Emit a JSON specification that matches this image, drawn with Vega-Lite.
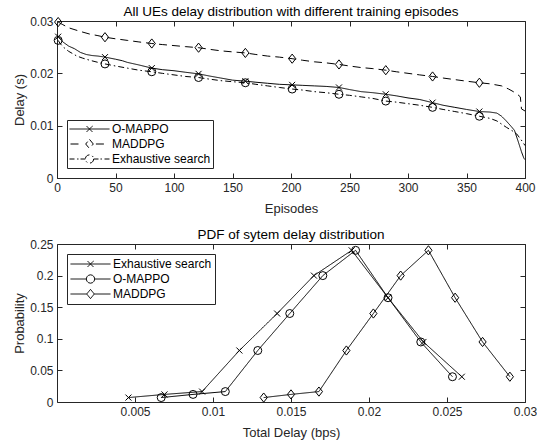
{
  "$schema": "https://vega.github.io/schema/vega-lite/v6.json",
  "padding": {"left": 13, "top": 4, "right": 0, "bottom": 0},
  "spacing": 66,
  "bounds": "flush",
  "resolve": {"scale": {"strokeDash": "independent"}, "legend": {"strokeDash": "independent"}},
  "config": {
    "font": "Liberation Sans",
    "view": {"stroke": "#262626", "strokeWidth": 1},
    "axis": {"grid": false, "domain": false, "tickSize": -5, "tickColor": "#262626", "tickWidth": 1, "labelPadding": 9, "labelFontSize": 12, "labelColor": "#262626", "titleFontSize": 13, "titleFontWeight": "normal", "titleColor": "#262626", "labelFlush": false, "labelOverlap": false, "titlePadding": 3},
    "axisX": {"titlePadding": 9},
    "title": {"fontSize": 13.5, "fontWeight": "normal", "color": "black", "offset": -3},
    "point": {"filled": false, "color": "black", "strokeWidth": 1, "opacity": 1, "size": 64},
    "legend": {"title": null, "strokeColor": "#262626", "fillColor": "white", "padding": 3, "symbolSize": 1600, "clipHeight": 14, "rowPadding": 1, "labelOffset": 2, "labelFontSize": 12, "labelColor": "black", "symbolStrokeWidth": 1, "symbolStrokeColor": "black"}
  },
  "datasets": {
    "top": [
      {"series":"O-MAPPO","ep":0,"delay":0.0267,"marker":false},
      {"series":"O-MAPPO","ep":1,"delay":0.0270,"marker":true},
      {"series":"O-MAPPO","ep":5,"delay":0.0260,"marker":false},
      {"series":"O-MAPPO","ep":10,"delay":0.0252,"marker":false},
      {"series":"O-MAPPO","ep":15,"delay":0.0247,"marker":false},
      {"series":"O-MAPPO","ep":20,"delay":0.0240,"marker":false},
      {"series":"O-MAPPO","ep":25,"delay":0.0236,"marker":false},
      {"series":"O-MAPPO","ep":30,"delay":0.0234,"marker":false},
      {"series":"O-MAPPO","ep":35,"delay":0.0233,"marker":false},
      {"series":"O-MAPPO","ep":41,"delay":0.0231,"marker":true},
      {"series":"O-MAPPO","ep":50,"delay":0.0227,"marker":false},
      {"series":"O-MAPPO","ep":56,"delay":0.0224,"marker":false},
      {"series":"O-MAPPO","ep":60,"delay":0.0221,"marker":false},
      {"series":"O-MAPPO","ep":70,"delay":0.0216,"marker":false},
      {"series":"O-MAPPO","ep":81,"delay":0.0210,"marker":true},
      {"series":"O-MAPPO","ep":90,"delay":0.0207,"marker":false},
      {"series":"O-MAPPO","ep":100,"delay":0.0205,"marker":false},
      {"series":"O-MAPPO","ep":110,"delay":0.0202,"marker":false},
      {"series":"O-MAPPO","ep":121,"delay":0.0199,"marker":true},
      {"series":"O-MAPPO","ep":130,"delay":0.0195,"marker":false},
      {"series":"O-MAPPO","ep":140,"delay":0.0191,"marker":false},
      {"series":"O-MAPPO","ep":150,"delay":0.0187,"marker":false},
      {"series":"O-MAPPO","ep":161,"delay":0.0185,"marker":true},
      {"series":"O-MAPPO","ep":170,"delay":0.0183,"marker":false},
      {"series":"O-MAPPO","ep":180,"delay":0.0181,"marker":false},
      {"series":"O-MAPPO","ep":190,"delay":0.0179,"marker":false},
      {"series":"O-MAPPO","ep":201,"delay":0.0178,"marker":true},
      {"series":"O-MAPPO","ep":210,"delay":0.0177,"marker":false},
      {"series":"O-MAPPO","ep":220,"delay":0.0176,"marker":false},
      {"series":"O-MAPPO","ep":230,"delay":0.0175,"marker":false},
      {"series":"O-MAPPO","ep":241,"delay":0.0173,"marker":true},
      {"series":"O-MAPPO","ep":250,"delay":0.0169,"marker":false},
      {"series":"O-MAPPO","ep":260,"delay":0.0165,"marker":false},
      {"series":"O-MAPPO","ep":270,"delay":0.0163,"marker":false},
      {"series":"O-MAPPO","ep":281,"delay":0.0160,"marker":true},
      {"series":"O-MAPPO","ep":290,"delay":0.0157,"marker":false},
      {"series":"O-MAPPO","ep":300,"delay":0.0153,"marker":false},
      {"series":"O-MAPPO","ep":310,"delay":0.0150,"marker":false},
      {"series":"O-MAPPO","ep":321,"delay":0.0144,"marker":true},
      {"series":"O-MAPPO","ep":330,"delay":0.0139,"marker":false},
      {"series":"O-MAPPO","ep":340,"delay":0.0135,"marker":false},
      {"series":"O-MAPPO","ep":350,"delay":0.0131,"marker":false},
      {"series":"O-MAPPO","ep":361,"delay":0.0127,"marker":true},
      {"series":"O-MAPPO","ep":370,"delay":0.0126,"marker":false},
      {"series":"O-MAPPO","ep":376,"delay":0.0124,"marker":false},
      {"series":"O-MAPPO","ep":380,"delay":0.0118,"marker":false},
      {"series":"O-MAPPO","ep":384,"delay":0.0109,"marker":false},
      {"series":"O-MAPPO","ep":388,"delay":0.0099,"marker":false},
      {"series":"O-MAPPO","ep":391,"delay":0.0091,"marker":false},
      {"series":"O-MAPPO","ep":394,"delay":0.0071,"marker":false},
      {"series":"O-MAPPO","ep":397,"delay":0.0050,"marker":false},
      {"series":"O-MAPPO","ep":399,"delay":0.0038,"marker":false},
      {"series":"O-MAPPO","ep":400,"delay":0.0035,"marker":false},
      {"series":"MADDPG","ep":1,"delay":0.0298,"marker":true},
      {"series":"MADDPG","ep":5,"delay":0.0293,"marker":false},
      {"series":"MADDPG","ep":10,"delay":0.0287,"marker":false},
      {"series":"MADDPG","ep":20,"delay":0.0280,"marker":false},
      {"series":"MADDPG","ep":28,"delay":0.0275,"marker":false},
      {"series":"MADDPG","ep":35,"delay":0.0272,"marker":false},
      {"series":"MADDPG","ep":41,"delay":0.0269,"marker":true},
      {"series":"MADDPG","ep":50,"delay":0.0266,"marker":false},
      {"series":"MADDPG","ep":60,"delay":0.0263,"marker":false},
      {"series":"MADDPG","ep":70,"delay":0.0260,"marker":false},
      {"series":"MADDPG","ep":81,"delay":0.0257,"marker":true},
      {"series":"MADDPG","ep":90,"delay":0.0255,"marker":false},
      {"series":"MADDPG","ep":100,"delay":0.0253,"marker":false},
      {"series":"MADDPG","ep":110,"delay":0.0251,"marker":false},
      {"series":"MADDPG","ep":121,"delay":0.0249,"marker":true},
      {"series":"MADDPG","ep":130,"delay":0.0246,"marker":false},
      {"series":"MADDPG","ep":140,"delay":0.0243,"marker":false},
      {"series":"MADDPG","ep":150,"delay":0.0241,"marker":false},
      {"series":"MADDPG","ep":161,"delay":0.0239,"marker":true},
      {"series":"MADDPG","ep":170,"delay":0.0236,"marker":false},
      {"series":"MADDPG","ep":180,"delay":0.0233,"marker":false},
      {"series":"MADDPG","ep":190,"delay":0.0231,"marker":false},
      {"series":"MADDPG","ep":201,"delay":0.0228,"marker":true},
      {"series":"MADDPG","ep":210,"delay":0.0225,"marker":false},
      {"series":"MADDPG","ep":220,"delay":0.0222,"marker":false},
      {"series":"MADDPG","ep":230,"delay":0.0220,"marker":false},
      {"series":"MADDPG","ep":241,"delay":0.0217,"marker":true},
      {"series":"MADDPG","ep":250,"delay":0.0214,"marker":false},
      {"series":"MADDPG","ep":260,"delay":0.0211,"marker":false},
      {"series":"MADDPG","ep":270,"delay":0.0209,"marker":false},
      {"series":"MADDPG","ep":281,"delay":0.0206,"marker":true},
      {"series":"MADDPG","ep":290,"delay":0.0203,"marker":false},
      {"series":"MADDPG","ep":300,"delay":0.0200,"marker":false},
      {"series":"MADDPG","ep":310,"delay":0.0197,"marker":false},
      {"series":"MADDPG","ep":321,"delay":0.0194,"marker":true},
      {"series":"MADDPG","ep":330,"delay":0.0191,"marker":false},
      {"series":"MADDPG","ep":340,"delay":0.0188,"marker":false},
      {"series":"MADDPG","ep":350,"delay":0.0185,"marker":false},
      {"series":"MADDPG","ep":361,"delay":0.0182,"marker":true},
      {"series":"MADDPG","ep":370,"delay":0.0180,"marker":false},
      {"series":"MADDPG","ep":380,"delay":0.0176,"marker":false},
      {"series":"MADDPG","ep":386,"delay":0.0170,"marker":false},
      {"series":"MADDPG","ep":390,"delay":0.0165,"marker":false},
      {"series":"MADDPG","ep":394,"delay":0.0159,"marker":false},
      {"series":"MADDPG","ep":396,"delay":0.0155,"marker":false},
      {"series":"MADDPG","ep":397,"delay":0.0132,"marker":false},
      {"series":"MADDPG","ep":400,"delay":0.0128,"marker":false},
      {"series":"Exhaustive search","ep":1,"delay":0.0263,"marker":true},
      {"series":"Exhaustive search","ep":3,"delay":0.0256,"marker":false},
      {"series":"Exhaustive search","ep":6,"delay":0.0249,"marker":false},
      {"series":"Exhaustive search","ep":10,"delay":0.0242,"marker":false},
      {"series":"Exhaustive search","ep":17,"delay":0.0233,"marker":false},
      {"series":"Exhaustive search","ep":22,"delay":0.0229,"marker":false},
      {"series":"Exhaustive search","ep":28,"delay":0.0225,"marker":false},
      {"series":"Exhaustive search","ep":35,"delay":0.0221,"marker":false},
      {"series":"Exhaustive search","ep":41,"delay":0.0218,"marker":true},
      {"series":"Exhaustive search","ep":50,"delay":0.0214,"marker":false},
      {"series":"Exhaustive search","ep":60,"delay":0.0210,"marker":false},
      {"series":"Exhaustive search","ep":70,"delay":0.0206,"marker":false},
      {"series":"Exhaustive search","ep":81,"delay":0.0203,"marker":true},
      {"series":"Exhaustive search","ep":90,"delay":0.0200,"marker":false},
      {"series":"Exhaustive search","ep":100,"delay":0.0197,"marker":false},
      {"series":"Exhaustive search","ep":110,"delay":0.0194,"marker":false},
      {"series":"Exhaustive search","ep":121,"delay":0.0192,"marker":true},
      {"series":"Exhaustive search","ep":130,"delay":0.0189,"marker":false},
      {"series":"Exhaustive search","ep":140,"delay":0.0186,"marker":false},
      {"series":"Exhaustive search","ep":150,"delay":0.0184,"marker":false},
      {"series":"Exhaustive search","ep":161,"delay":0.0182,"marker":true},
      {"series":"Exhaustive search","ep":170,"delay":0.0179,"marker":false},
      {"series":"Exhaustive search","ep":180,"delay":0.0176,"marker":false},
      {"series":"Exhaustive search","ep":190,"delay":0.0173,"marker":false},
      {"series":"Exhaustive search","ep":201,"delay":0.0170,"marker":true},
      {"series":"Exhaustive search","ep":210,"delay":0.0168,"marker":false},
      {"series":"Exhaustive search","ep":220,"delay":0.0165,"marker":false},
      {"series":"Exhaustive search","ep":230,"delay":0.0163,"marker":false},
      {"series":"Exhaustive search","ep":241,"delay":0.0160,"marker":true},
      {"series":"Exhaustive search","ep":250,"delay":0.0158,"marker":false},
      {"series":"Exhaustive search","ep":260,"delay":0.0155,"marker":false},
      {"series":"Exhaustive search","ep":270,"delay":0.0152,"marker":false},
      {"series":"Exhaustive search","ep":281,"delay":0.0147,"marker":true},
      {"series":"Exhaustive search","ep":290,"delay":0.0145,"marker":false},
      {"series":"Exhaustive search","ep":300,"delay":0.0142,"marker":false},
      {"series":"Exhaustive search","ep":310,"delay":0.0139,"marker":false},
      {"series":"Exhaustive search","ep":321,"delay":0.0135,"marker":true},
      {"series":"Exhaustive search","ep":330,"delay":0.0131,"marker":false},
      {"series":"Exhaustive search","ep":340,"delay":0.0127,"marker":false},
      {"series":"Exhaustive search","ep":350,"delay":0.0123,"marker":false},
      {"series":"Exhaustive search","ep":361,"delay":0.0118,"marker":true},
      {"series":"Exhaustive search","ep":370,"delay":0.0114,"marker":false},
      {"series":"Exhaustive search","ep":376,"delay":0.0109,"marker":false},
      {"series":"Exhaustive search","ep":384,"delay":0.0097,"marker":false},
      {"series":"Exhaustive search","ep":390,"delay":0.0089,"marker":false},
      {"series":"Exhaustive search","ep":393,"delay":0.0084,"marker":false},
      {"series":"Exhaustive search","ep":396,"delay":0.0075,"marker":false},
      {"series":"Exhaustive search","ep":398,"delay":0.0069,"marker":false},
      {"series":"Exhaustive search","ep":400,"delay":0.0062,"marker":false}
    ],
    "pdf": [
      {"series":"Exhaustive search","delay":0.00458,"prob":0.007},
      {"series":"Exhaustive search","delay":0.00689,"prob":0.012},
      {"series":"Exhaustive search","delay":0.0093,"prob":0.0165},
      {"series":"Exhaustive search","delay":0.01169,"prob":0.0815},
      {"series":"Exhaustive search","delay":0.01411,"prob":0.14},
      {"series":"Exhaustive search","delay":0.01647,"prob":0.2},
      {"series":"Exhaustive search","delay":0.01889,"prob":0.24},
      {"series":"Exhaustive search","delay":0.02122,"prob":0.165},
      {"series":"Exhaustive search","delay":0.02349,"prob":0.095},
      {"series":"Exhaustive search","delay":0.02595,"prob":0.04},
      {"series":"O-MAPPO","delay":0.00668,"prob":0.007},
      {"series":"O-MAPPO","delay":0.00872,"prob":0.012},
      {"series":"O-MAPPO","delay":0.01079,"prob":0.0165},
      {"series":"O-MAPPO","delay":0.01287,"prob":0.0815},
      {"series":"O-MAPPO","delay":0.01492,"prob":0.14},
      {"series":"O-MAPPO","delay":0.01704,"prob":0.2},
      {"series":"O-MAPPO","delay":0.01914,"prob":0.24},
      {"series":"O-MAPPO","delay":0.02122,"prob":0.165},
      {"series":"O-MAPPO","delay":0.02332,"prob":0.095},
      {"series":"O-MAPPO","delay":0.02535,"prob":0.04},
      {"series":"MADDPG","delay":0.01325,"prob":0.007},
      {"series":"MADDPG","delay":0.015,"prob":0.012},
      {"series":"MADDPG","delay":0.01679,"prob":0.0165},
      {"series":"MADDPG","delay":0.01855,"prob":0.0815},
      {"series":"MADDPG","delay":0.02028,"prob":0.14},
      {"series":"MADDPG","delay":0.02203,"prob":0.2},
      {"series":"MADDPG","delay":0.02381,"prob":0.24},
      {"series":"MADDPG","delay":0.02552,"prob":0.165},
      {"series":"MADDPG","delay":0.02728,"prob":0.095},
      {"series":"MADDPG","delay":0.02903,"prob":0.04}
    ]
  },
  "vconcat": [
    {
      "width": 468,
      "height": 157,
      "title": {"text": "All UEs delay distribution with different training episodes"},
      "data": {"name": "top"},
      "layer": [
        {
          "mark": {"type": "line", "color": "black", "strokeWidth": 1},
          "encoding": {
            "x": {"field": "ep", "type": "quantitative", "scale": {"domain": [0, 400], "nice": false, "zero": false}, "axis": {"orient": "bottom", "title": "Episodes", "values": [0, 50, 100, 150, 200, 250, 300, 350, 400]}},
            "y": {"field": "delay", "type": "quantitative", "scale": {"domain": [0, 0.03], "nice": false}, "axis": {"orient": "left", "title": "Delay (s)", "values": [0, 0.01, 0.02, 0.03], "format": "~g"}},
            "strokeDash": {
              "field": "series", "type": "nominal",
              "scale": {"domain": ["O-MAPPO", "MADDPG", "Exhaustive search"], "range": [[1, 0], [8, 5], [6, 3, 1.5, 3]]},
              "legend": {
                "orient": "bottom-left", "offset": 10, "padding": 2,
                "encode": {"symbols": {"update": {
                  "shape": {"signal": "datum.value === 'O-MAPPO' ? 'M-1,0H1M-0.15,-0.15L0.15,0.15M-0.15,0.15L0.15,-0.15' : datum.value === 'MADDPG' ? 'M-0.95,0H-0.32M0,-0.23L0.19,0L0,0.23L-0.19,0ZM0.32,0H0.95' : 'M-1,0H-0.75M-0.62,0H-0.55M-0.45,0H-0.21M0.21,0L0.182,0.105L0.105,0.182L0,0.21L-0.105,0.182L-0.182,0.105L-0.21,0L-0.182,-0.105L-0.105,-0.182L0,-0.21L0.105,-0.182L0.182,-0.105ZM0.21,0H0.45M0.55,0H0.62M0.75,0H1'"},
                  "strokeDash": {"value": [1, 0]},
                  "stroke": {"value": "black"},
                  "fill": {"value": "transparent"}
                }}}
              }
            }
          }
        },
        {
          "transform": [{"filter": "datum.marker && datum.series === 'O-MAPPO'"}],
          "mark": {"type": "point", "shape": "M-0.75,-0.75L0.75,0.75M-0.75,0.75L0.75,-0.75"},
          "encoding": {
            "x": {"field": "ep", "type": "quantitative", "axis": {"orient": "top", "labels": false, "title": null, "values": [0, 50, 100, 150, 200, 250, 300, 350, 400]}},
            "y": {"field": "delay", "type": "quantitative", "axis": {"orient": "right", "labels": false, "title": null, "values": [0, 0.01, 0.02, 0.03]}}
          }
        },
        {
          "transform": [{"filter": "datum.marker && datum.series === 'MADDPG'"}],
          "mark": {"type": "point", "shape": "M0,-1.15L0.9,0L0,1.15L-0.9,0Z"},
          "encoding": {
            "x": {"field": "ep", "type": "quantitative", "axis": null},
            "y": {"field": "delay", "type": "quantitative", "axis": null}
          }
        },
        {
          "transform": [{"filter": "datum.marker && datum.series === 'Exhaustive search'"}],
          "mark": {"type": "point", "shape": "circle"},
          "encoding": {
            "x": {"field": "ep", "type": "quantitative", "axis": null},
            "y": {"field": "delay", "type": "quantitative", "axis": null}
          }
        }
      ],
      "resolve": {"axis": {"x": "independent", "y": "independent"}}
    },
    {
      "width": 468,
      "height": 158,
      "title": {"text": "PDF of sytem delay distribution"},
      "data": {"name": "pdf"},
      "layer": [
        {
          "mark": {"type": "line", "color": "black", "strokeWidth": 1},
          "encoding": {
            "x": {"field": "delay", "type": "quantitative", "scale": {"domain": [0, 0.03], "nice": false, "zero": false}, "axis": {"orient": "bottom", "title": "Total Delay (bps)", "values": [0.005, 0.01, 0.015, 0.02, 0.025, 0.03], "format": "~g"}},
            "y": {"field": "prob", "type": "quantitative", "scale": {"domain": [0, 0.25], "nice": false}, "axis": {"orient": "left", "title": "Probability", "values": [0, 0.05, 0.1, 0.15, 0.2, 0.25], "format": "~g"}},
            "strokeDash": {
              "field": "series", "type": "nominal",
              "scale": {"domain": ["Exhaustive search", "O-MAPPO", "MADDPG"], "range": [[1, 0], [1, 0], [1, 0]]},
              "legend": {
                "orient": "top-left", "offset": 10, "padding": 3,
                "encode": {"symbols": {"update": {
                  "shape": {"signal": "datum.value === 'Exhaustive search' ? 'M-1,0H1M-0.15,-0.15L0.15,0.15M-0.15,0.15L0.15,-0.15' : datum.value === 'MADDPG' ? 'M-1,0H-0.19M0,-0.23L0.19,0L0,0.23L-0.19,0ZM0.19,0H1' : 'M-1,0H-0.21M0.21,0L0.182,0.105L0.105,0.182L0,0.21L-0.105,0.182L-0.182,0.105L-0.21,0L-0.182,-0.105L-0.105,-0.182L0,-0.21L0.105,-0.182L0.182,-0.105ZM0.21,0H1'"},
                  "strokeDash": {"value": [1, 0]},
                  "stroke": {"value": "black"},
                  "fill": {"value": "transparent"}
                }}}
              }
            }
          }
        },
        {
          "transform": [{"filter": "datum.series === 'Exhaustive search'"}],
          "mark": {"type": "point", "shape": "M-0.75,-0.75L0.75,0.75M-0.75,0.75L0.75,-0.75"},
          "encoding": {
            "x": {"field": "delay", "type": "quantitative", "axis": {"orient": "top", "labels": false, "title": null, "values": [0.005, 0.01, 0.015, 0.02, 0.025, 0.03]}},
            "y": {"field": "prob", "type": "quantitative", "axis": {"orient": "right", "labels": false, "title": null, "values": [0, 0.05, 0.1, 0.15, 0.2, 0.25]}}
          }
        },
        {
          "transform": [{"filter": "datum.series === 'O-MAPPO'"}],
          "mark": {"type": "point", "shape": "circle"},
          "encoding": {
            "x": {"field": "delay", "type": "quantitative", "axis": null},
            "y": {"field": "prob", "type": "quantitative", "axis": null}
          }
        },
        {
          "transform": [{"filter": "datum.series === 'MADDPG'"}],
          "mark": {"type": "point", "shape": "M0,-1.15L0.9,0L0,1.15L-0.9,0Z"},
          "encoding": {
            "x": {"field": "delay", "type": "quantitative", "axis": null},
            "y": {"field": "prob", "type": "quantitative", "axis": null}
          }
        }
      ],
      "resolve": {"axis": {"x": "independent", "y": "independent"}}
    }
  ]
}
